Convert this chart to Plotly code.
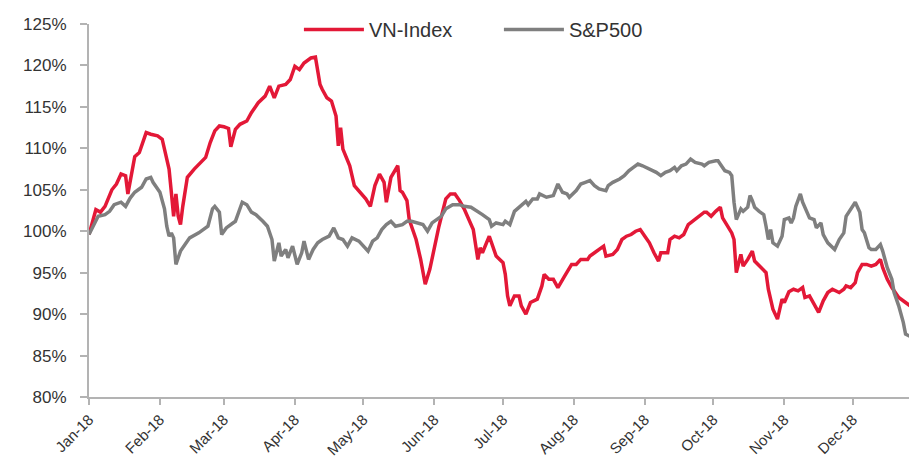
import plotly.graph_objects as go

# VN-Index (% of start level)
vn_dates = [
    "01-01","01-04","01-06","01-08","01-11","01-13","01-15","01-17","01-18","01-19","01-21","01-23","01-26","01-28","01-31",
    "02-02","02-03","02-05","02-06","02-07","02-08","02-09","02-10","02-11","02-13","02-16","02-21","02-23","02-25","02-27",
    "03-01","03-03","03-04","03-06","03-08","03-11","03-13","03-16","03-19","03-21","03-23","03-25","03-28","03-30",
    "04-01","04-03","04-05","04-08","04-10","04-11","04-12","04-13","04-15","04-17","04-19","04-20","04-21","04-22","04-24","04-25","04-27","04-29",
    "05-02","05-04","05-06","05-08","05-10","05-11","05-13","05-16","05-17","05-18","05-20","05-21","05-24","05-26","05-28","05-30",
    "06-01","06-03","06-06","06-08","06-10","06-12","06-14","06-16","06-18","06-20","06-21","06-22","06-25","06-28",
    "07-01","07-02","07-03","07-04","07-06","07-08","07-09","07-11","07-13","07-16","07-18","07-19","07-21","07-23","07-25","07-28","07-31",
    "08-02","08-04","08-07","08-08","08-10","08-12","08-14","08-15","08-18","08-20","08-22","08-24","08-26","08-28","08-30",
    "09-01","09-03","09-05","09-07","09-08","09-11","09-12","09-14","09-16","09-18","09-20","09-22","09-24","09-27","09-28","09-30",
    "10-02","10-04","10-05","10-07","10-09","10-10","10-11","10-13","10-14","10-16","10-18","10-19","10-21","10-24","10-25","10-27","10-29","10-31",
    "11-01","11-03","11-05","11-07","11-09","11-10","11-12","11-14","11-16","11-18","11-20","11-22","11-25","11-27","11-28","11-30",
    "12-02","12-03","12-05","12-07","12-09","12-11","12-13","12-14","12-16","12-18","12-21","12-24","12-26",
]
vn_values = [
    99.6,102.6,102.3,103.0,105.0,105.7,106.9,106.7,104.5,106.0,109.0,109.5,111.9,111.7,111.5,
    111.1,109.9,107.5,104.7,101.8,104.5,101.8,100.8,103.0,106.5,107.5,108.9,110.7,112.1,112.7,
    112.6,112.4,110.2,112.3,112.9,113.3,114.3,115.5,116.3,117.5,116.1,117.5,117.7,118.3,
    119.9,119.5,120.3,120.9,121.0,119.5,117.7,117.1,116.1,115.7,113.9,110.3,112.5,109.9,108.7,107.9,105.5,104.9,
    103.9,103.0,105.5,106.9,105.9,103.5,106.5,107.9,104.9,104.7,103.7,101.4,99.0,96.6,93.6,95.4,
    98.2,100.6,103.9,104.5,104.5,103.7,102.7,101.4,100.2,96.6,98.0,97.4,99.4,97.0,
    96.2,94.8,92.2,91.0,92.2,92.2,91.0,90.0,91.4,91.8,93.4,94.8,94.2,94.2,93.2,94.6,96.0,
    96.0,96.6,96.6,97.0,97.4,97.8,98.2,97.0,97.2,97.8,99.0,99.4,99.6,100.0,100.2,
    99.4,98.6,97.4,96.4,97.4,97.4,99.0,99.4,99.2,99.6,100.8,101.2,101.6,102.3,102.3,101.8,
    102.4,102.9,101.6,100.6,99.8,99.0,95.0,97.2,95.8,96.6,97.6,96.4,95.8,95.0,93.0,90.6,89.4,91.8,
    91.4,92.7,93.0,92.8,93.2,92.0,92.2,91.2,90.2,91.6,92.6,93.0,92.6,93.0,93.4,93.2,
    93.8,95.0,96.0,96.0,95.8,96.0,96.6,95.6,94.2,93.2,92.0,91.4,91.0,
]

# S&P500 (% of start level)
sp_dates = [
    "01-01","01-03","01-05","01-08","01-10","01-12","01-15","01-17","01-19","01-21","01-24","01-26","01-28","01-29","01-31",
    "02-01","02-03","02-04","02-05","02-06","02-07","02-08","02-10","02-12","02-14","02-18","02-22","02-24","02-25","02-27","02-28",
    "03-02","03-03","03-06","03-09","03-11","03-13","03-15","03-18","03-20","03-22","03-23","03-25","03-26","03-28","03-29","03-31",
    "04-02","04-04","04-05","04-07","04-09","04-11","04-13","04-16","04-18","04-20","04-22","04-24","04-26","04-29",
    "05-02","05-03","05-05","05-07","05-09","05-11","05-13","05-15","05-18","05-20","05-22","05-25","05-27","05-29","05-31",
    "06-02","06-04","06-06","06-09","06-12","06-14","06-17","06-20","06-22","06-25","06-26","06-28",
    "07-01","07-02","07-04","07-06","07-09","07-11","07-12","07-14","07-16","07-17","07-20","07-23","07-25","07-27","07-29","07-30",
    "08-02","08-04","08-06","08-08","08-10","08-12","08-15","08-16","08-18","08-21","08-23","08-25","08-27","08-29","08-31",
    "09-03","09-06","09-08","09-10","09-12","09-14","09-15","09-17","09-19","09-21","09-23","09-26","09-27","09-29",
    "10-02","10-03","10-05","10-06","10-08","10-09","10-10","10-11","10-13","10-14","10-16","10-17","10-18","10-19","10-21","10-23","10-24","10-25","10-26","10-27","10-29","10-31",
    "11-01","11-03","11-04","11-05","11-06","11-08","11-09","11-11","11-12","11-14","11-15","11-17","11-18","11-20","11-22","11-23","11-25","11-27","11-28","11-30",
    "12-02","12-04","12-05","12-06","12-08","12-09","12-11","12-13","12-14","12-16","12-18","12-19","12-21","12-23","12-24","12-26",
]
sp_values = [
    99.6,100.8,101.8,102.0,102.4,103.2,103.5,103.0,104.0,104.7,105.3,106.3,106.5,105.9,105.1,
    104.7,102.7,100.6,99.4,99.8,99.2,96.0,97.6,98.4,99.2,99.8,100.6,102.7,103.0,102.3,99.6,
    100.4,100.6,101.2,103.5,103.2,102.3,102.0,101.2,100.6,99.0,96.4,98.6,97.0,97.8,96.8,98.2,
    96.0,97.4,98.8,96.6,97.8,98.6,99.0,99.4,100.4,99.2,99.0,98.2,99.2,98.8,
    98.0,97.6,98.8,99.2,100.2,100.8,101.2,100.6,100.8,101.2,101.2,101.0,100.8,100.0,101.0,
    101.4,101.8,102.7,103.2,103.2,103.0,102.9,102.4,102.0,101.4,100.6,101.0,
    100.8,101.2,100.8,102.4,103.2,103.6,103.2,103.9,103.9,104.5,104.1,104.3,105.7,104.7,104.5,104.1,
    104.9,105.7,105.9,106.1,105.5,105.1,104.9,105.5,105.9,106.3,106.7,107.3,107.7,108.1,107.9,
    107.5,107.1,106.7,107.1,107.3,107.7,107.3,107.9,108.1,108.7,108.3,108.1,107.9,108.3,
    108.5,108.5,107.7,107.3,107.1,106.7,103.5,101.4,102.7,102.4,102.9,104.3,103.7,102.9,102.4,102.0,100.6,99.0,100.2,98.6,98.2,99.4,
    101.4,101.6,101.0,101.6,103.0,104.5,103.5,102.3,101.6,101.4,100.4,101.0,99.6,98.6,98.0,97.8,99.0,99.8,101.8,102.7,
    103.5,102.3,100.2,99.8,98.0,97.8,97.8,98.4,97.6,95.6,94.2,92.6,91.0,89.0,87.6,87.3,
]

series_names = ["VN-Index", "S&P500"]
series_colors = ["#e31837", "#7f7f7f"]
y_ticks = [80, 85, 90, 95, 100, 105, 110, 115, 120, 125]

YEAR = "2018-"
fig = go.Figure()
for name, color, ds, vs in [
    (series_names[0], series_colors[0], vn_dates, vn_values),
    (series_names[1], series_colors[1], sp_dates, sp_values),
]:
    fig.add_trace(go.Scatter(
        x=[YEAR + d for d in ds], y=vs, mode="lines", name=name,
        line=dict(color=color, width=3.5),
    ))

font_family = "Arial, Liberation Sans, sans-serif"
fig.update_layout(
    width=909, height=459,
    margin=dict(l=89, r=0, t=24, b=62, autoexpand=False),
    paper_bgcolor="white", plot_bgcolor="white",
    font=dict(family=font_family, size=17, color="#333333"),
    showlegend=True,
    legend=dict(
        orientation="h", x=0.256, xanchor="left", y=0.985, yanchor="middle",
        font=dict(size=20, color="#333333"), bgcolor="rgba(0,0,0,0)",
        itemwidth=60, tracegroupgap=0,
        entrywidth=125, entrywidthmode="pixels",
    ),
    xaxis=dict(
        type="date", automargin=False,
        range=["2018-01-01", "2018-12-25 12:00"],
        tick0="2018-01-01", dtick="M1", tickformat="%b-%y",
        tickangle=-45, ticks="outside", ticklen=6, tickwidth=2, tickcolor="#b3b3b3",
        showline=True, linecolor="#b3b3b3", linewidth=2,
        showgrid=False, zeroline=False,
        tickfont=dict(size=15, color="#333333"),
    ),
    yaxis=dict(
        range=[80, 125], tickvals=y_ticks, ticktext=[f"{v}%" for v in y_ticks],
        automargin=False,
        ticks="outside", ticklen=7, tickwidth=2, tickcolor="#b3b3b3",
        showline=True, linecolor="#b3b3b3", linewidth=2,
        showgrid=False, zeroline=False, ticklabelstandoff=10,
        tickfont=dict(size=17, color="#333333"),
    ),
)

fig.write_html(
    "out.html",
    config={"displayModeBar": False},
    post_script="document.body.style.margin='0';document.body.style.overflow='hidden';",
)
